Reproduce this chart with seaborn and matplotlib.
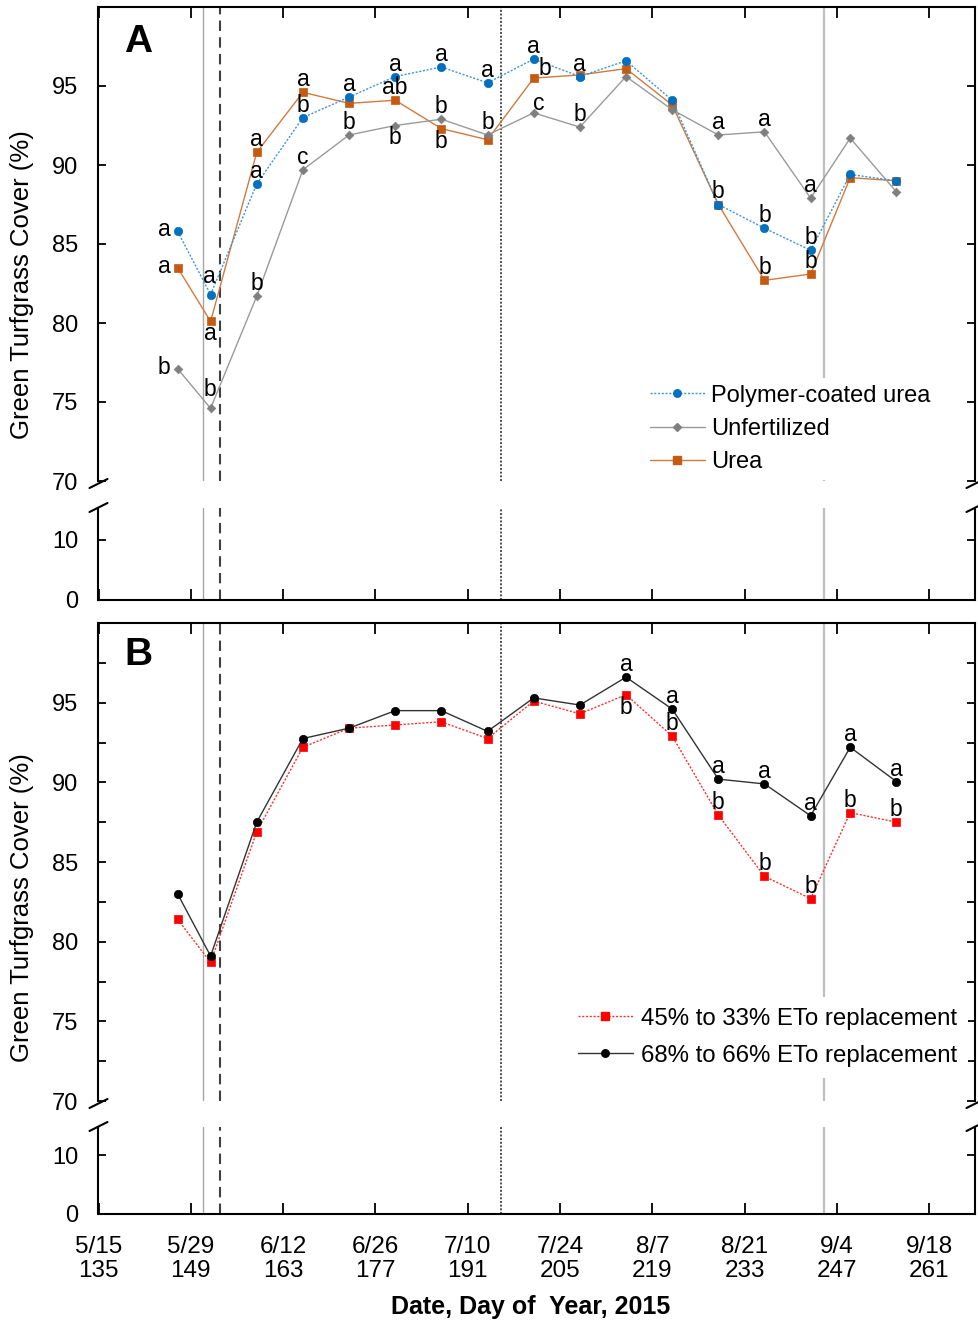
import matplotlib
matplotlib.use("Agg")
import matplotlib.pyplot as plt
from matplotlib.lines import Line2D
import seaborn as sns

sns.set_theme(style="ticks")
plt.rcParams["font.family"] = ["Liberation Sans", "DejaVu Sans"]
plt.rcParams.update({"text.color": "black", "axes.labelcolor": "black",
                     "xtick.color": "black", "ytick.color": "black",
                     "axes.edgecolor": "black"})

# ---------------- data ----------------
days = [147, 152, 159, 166, 173, 180, 187, 194, 201, 208, 215, 222, 229, 236, 243, 249, 256]

# Panel A: nitrogen source
pcu = [85.8, 81.8, 88.8, 93.0, 94.3, 95.6, 96.2, 95.2, 96.7, 95.6, 96.6, 94.1, 87.5, 86.0, 84.6, 89.4, 89.0]
unfert = [77.1, 74.6, 81.7, 89.7, 91.9, 92.5, 92.9, 91.9, 93.3, 92.4, 95.6, 93.5, 91.9, 92.1, 87.9, 91.7, 88.3]
urea = [83.5, 80.1, 90.8, 94.6, 93.9, 94.1, 92.3, 91.6, 95.5, 95.7, 96.1, 93.8, 87.5, 82.7, 83.1, 89.2, 89.0]

pcu_letters = ["a", "a", "a", "b", "a", "a", "a", "a", "a", "a", "", "", "b", "b", "b", "", ""]
unfert_letters = ["b", "b", "b", "c", "b", "b", "b", "b", "c", "b", "", "", "a", "a", "a", "", ""]
urea_letters = ["a", "a", "a", "a", "", "ab", "b", "", "b", "", "", "", "", "b", "b", "", ""]

# Panel B: irrigation level
et45 = [81.4, 78.7, 86.9, 92.2, 93.4, 93.6, 93.8, 92.75, 95.1, 94.3, 95.5, 92.9, 87.95, 84.1, 82.7, 88.1, 87.5]
et68 = [83.0, 79.1, 87.5, 92.75, 93.4, 94.5, 94.5, 93.2, 95.3, 94.85, 96.6, 94.6, 90.2, 89.9, 87.9, 92.2, 90.05]

et45_letters = [""] * 10 + ["b", "b", "b", "b", "b", "b", "b"]
et68_letters = [""] * 10 + ["a", "a", "a", "a", "a", "a", "a"]

# event dates (day of year) drawn as vertical reference lines
event_days = [150.8, 153.5, 196, 245]

tick_days = [135, 149, 163, 177, 191, 205, 219, 233, 247, 261]
tick_dates = ["5/15", "5/29", "6/12", "6/26", "7/10", "7/24", "8/7", "8/21", "9/4", "9/18"]

# ---------------- letter placement ----------------
pcu_place = ["left", "high"] + ["above"] * 15
urea_place = ["left", "below", "above", "above", "above", "above", "below", "above",
              "right"] + ["above"] * 8
unfert_place = ["left", "high", "above", "above", "above", "below", "above", "above",
                "cright"] + ["above"] * 8
et45_place = ["above"] * 10 + ["below"] + ["above"] * 6
et68_place = ["above"] * 17

OFFSETS = {
    "above": (0, 6, "center"),
    "high": (-1, 12, "center"),
    "below": (0, -19, "center"),
    "left": (-7, -5, "right"),
    "right": (11, 3, "center"),
    "cright": (5, 3, "center"),
}

# ---------------- figure ----------------
W, H = 979, 1320
fig = plt.figure(figsize=(W / 100, H / 100), dpi=100)


def add_ax(left, top, right, bottom):
    return fig.add_axes([left / W, 1 - bottom / H, (right - left) / W, (bottom - top) / H])


XL, XR = 98.5, 975.5
axA_up = add_ax(XL, 7, XR, 481)
axA_lo = add_ax(XL, 508, XR, 600)
axB_up = add_ax(XL, 623, XR, 1101)
axB_lo = add_ax(XL, 1127, XR, 1214)

FS = 17
LW_SPINE = 1.5

for ax in (axA_up, axA_lo, axB_up, axB_lo):
    ax.set_xlim(135, 268)
    ax.set_facecolor("white")
    for s in ax.spines.values():
        s.set_linewidth(LW_SPINE)
        s.set_color("black")
    ax.set_xticks(tick_days)
    ax.tick_params(axis="both", direction="in", colors="black", labelsize=FS,
                   width=1.3)
    ax.tick_params(axis="y", left=True, right=True, length=6, pad=14.5)
    ax.tick_params(axis="x", length=8)
    ax.set_xlabel("")
    ax.set_ylabel("")

for ax in (axA_up, axB_up):
    ax.set_ylim(70, 100)
    ax.set_yticks([70, 75, 80, 85, 90, 95])
    ax.spines["bottom"].set_visible(False)
    ax.tick_params(axis="x", top=True, bottom=False, labelbottom=False, labeltop=False)

axB_up.set_yticks([72.5, 77.5, 82.5, 87.5, 92.5, 97.5], minor=True)
axB_up.tick_params(axis="y", which="minor", direction="in", left=True, right=True,
                   length=6, width=1.3)

axA_lo.set_ylim(0, 15.3)
axB_lo.set_ylim(0, 14.8)
for ax in (axA_lo, axB_lo):
    ax.set_yticks([0, 10])
    ax.spines["top"].set_visible(False)
    ax.tick_params(axis="x", top=False, bottom=True)
axA_lo.tick_params(axis="x", labelbottom=False)
axB_lo.set_xticklabels([f"{d}\n{n}" for d, n in zip(tick_dates, tick_days)],
                       linespacing=1.1, fontsize=17.5)
axB_lo.tick_params(axis="x", pad=16)

# vertical reference lines
line_styles = [
    dict(color="#A6A6A6", lw=1.0, ls="-"),
    dict(color="#404040", lw=1.5, ls=(0, (5, 3))),
    dict(color="#4D4D4D", lw=1.4, ls=(0, (1, 0.9))),
    dict(color="#BFBFBF", lw=1.6, ls="-"),
]
for ax in (axA_up, axA_lo, axB_up, axB_lo):
    for d, st in zip(event_days, line_styles):
        ax.axvline(d, zorder=1, **st)

# ---------------- series ----------------
BLUE, ORANGE, GRAY, GRAYL = "#0070C0", "#C55A11", "#7F7F7F", "#9A9A9A"
RED, BLACK = "#FF0000", "#000000"

series_A = [
    (pcu, "Polymer-coated urea", dict(color=BLUE, marker="o", markersize=6.0,
                                      ls=(0, (1.5, 1.2)), lw=1.0, mec=BLUE, lcolor="#3E95DA")),
    (unfert, "Unfertilized", dict(color=GRAY, marker="D", markersize=4.4,
                                  ls="-", lw=1.0, mec=GRAY, lcolor=GRAYL)),
    (urea, "Urea", dict(color=ORANGE, marker="s", markersize=6.4,
                        ls="-", lw=1.0, mec=ORANGE, lcolor="#D27A3E")),
]
series_B = [
    (et45, "45% to 33% ETo replacement", dict(color=RED, marker="s", markersize=6.4,
                                             ls=(0, (1.5, 1.2)), lw=1.0, mec=RED,
                                             lcolor="#FF3030")),
    (et68, "68% to 66% ETo replacement", dict(color=BLACK, marker="o", markersize=6.0,
                                             ls="-", lw=1.0, mec=BLACK, lcolor="#333333")),
]


def draw_series(ax, vals, st, z):
    sns.lineplot(x=days, y=vals, ax=ax, color=st["lcolor"], linestyle=st["ls"],
                 linewidth=st["lw"], sort=False, estimator=None, legend=False, zorder=z)
    sns.scatterplot(x=days, y=vals, ax=ax, color=st["color"], marker=st["marker"],
                    s=(st["markersize"] ** 2), edgecolor=st["mec"], linewidth=0.5,
                    legend=False, zorder=z + 0.5)


for i, (vals, _, st) in enumerate(series_A[::-1]):
    draw_series(axA_up, vals, st, 3 + i)
for i, (vals, _, st) in enumerate(series_B):
    draw_series(axB_up, vals, st, 3 + i)
for ax in (axA_up, axB_up):
    ax.set_xlabel("")
    ax.set_ylabel("")


def draw_letters(ax, vals, letters, places):
    for d, v, lt, pl in zip(days, vals, letters, places):
        if not lt:
            continue
        dx, dy, ha = OFFSETS[pl]
        ax.annotate(lt, (d, v), xytext=(dx, dy), textcoords="offset pixels",
                    ha=ha, va="baseline", fontsize=16.5, color="black", zorder=10)


draw_letters(axA_up, pcu, pcu_letters, pcu_place)
draw_letters(axA_up, urea, urea_letters, urea_place)
draw_letters(axA_up, unfert, unfert_letters, unfert_place)
draw_letters(axB_up, et45, et45_letters, et45_place)
draw_letters(axB_up, et68, et68_letters, et68_place)


def legend_handles(series):
    return [Line2D([], [], color=st["lcolor"], ls=st["ls"], lw=st["lw"],
                   marker=st["marker"], markersize=st["markersize"] * 0.9,
                   markerfacecolor=st["color"], markeredgecolor=st["mec"],
                   label=lab) for _, lab, st in series]


legA = axA_up.legend(handles=legend_handles(series_A), loc="upper left",
                     bbox_to_anchor=(643 / W, 1 - 378 / H), bbox_transform=fig.transFigure,
                     frameon=True, facecolor="white", edgecolor="none", framealpha=1,
                     fancybox=False, fontsize=FS, handlelength=2.33, handletextpad=0.28,
                     labelspacing=0.48, borderpad=0.28, borderaxespad=0)
legA.set_zorder(20)
legB = axB_up.legend(handles=legend_handles(series_B), loc="upper left",
                     bbox_to_anchor=(567 / W, 1 - 997 / H), bbox_transform=fig.transFigure,
                     frameon=True, facecolor="white", edgecolor="none", framealpha=1,
                     fancybox=False, fontsize=17.3, handlelength=2.3, handletextpad=0.34,
                     labelspacing=0.62, borderpad=0.45, borderaxespad=0)
legB.set_zorder(20)

# ---------------- broken-axis marks ----------------
def break_mark(xp, yp):
    fig.add_artist(Line2D([(xp - 9) / W, (xp + 9) / W],
                          [1 - (yp + 4.5) / H, 1 - (yp - 4.5) / H],
                          transform=fig.transFigure, color="black", lw=1.5))


for yb in (483.5, 507.5, 1103.5, 1126.5):
    break_mark(XL, yb)
    break_mark(XR, yb)

# ---------------- labels ----------------
fig.text(22 / W, 1 - 285 / H, "Green Turfgrass Cover (%)", rotation=90,
         ha="center", va="center", fontsize=18.5)
fig.text(22 / W, 1 - 908 / H, "Green Turfgrass Cover (%)", rotation=90,
         ha="center", va="center", fontsize=18.5)
fig.text(138 / W, 1 - 52 / H, "A", ha="center", va="baseline", fontsize=28,
         fontweight="bold")
fig.text(138 / W, 1 - 665 / H, "B", ha="center", va="baseline", fontsize=28,
         fontweight="bold")
fig.text(531 / W, 1 - 1314 / H, "Date, Day of  Year, 2015", ha="center",
         va="baseline", fontsize=18, fontweight="bold")

fig.savefig("out.png", dpi=100, facecolor="white")
